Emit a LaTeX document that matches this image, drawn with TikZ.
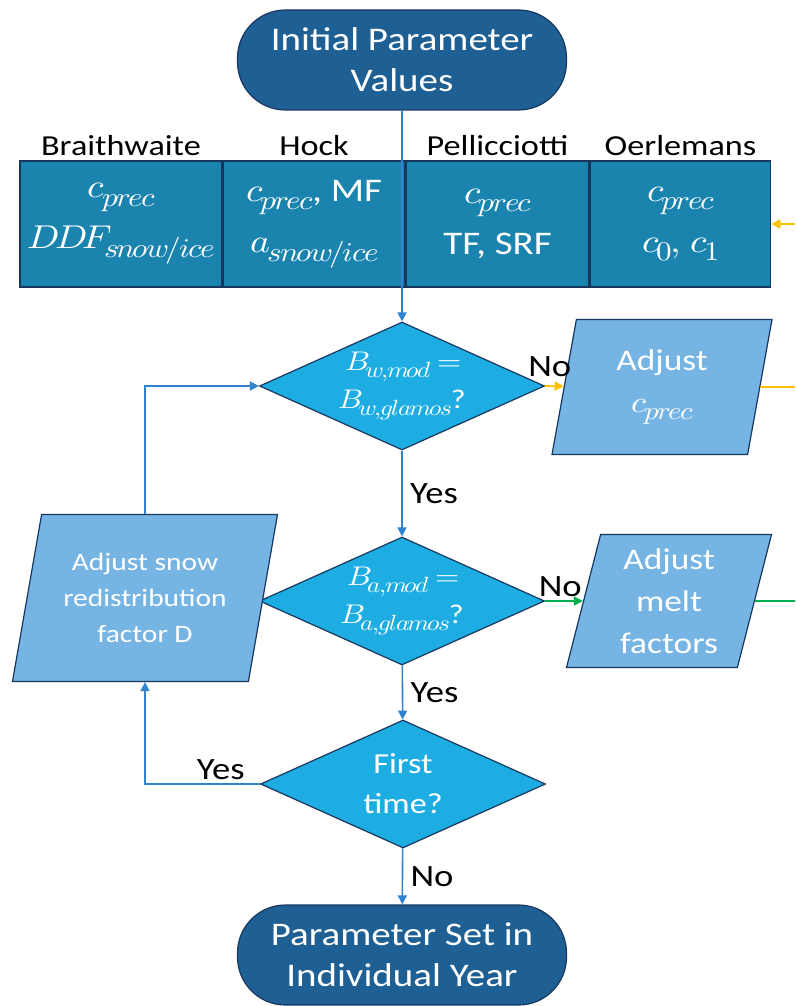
\documentclass[tikz,border=0pt]{standalone}
\usepackage{fontspec}
\usepackage{unicode-math}
\setmainfont{Carlito}[FakeStretch=1.18]
\setmathfont{Latin Modern Math}[FakeStretch=1.15]
\DeclareMathSizes{33}{33}{27}{20}
\DeclareMathSizes{27}{27}{22}{17}
\DeclareMathSizes{30}{30}{25}{19}
\usetikzlibrary{shapes.geometric,arrows.meta,positioning}
\definecolor{termblue}{HTML}{1E5F94}
\definecolor{cellblue}{HTML}{1A84AE}
\definecolor{decblue}{HTML}{1EADE3}
\definecolor{parablue}{HTML}{75B4E3}
\definecolor{edgenavy}{HTML}{17375E}
\definecolor{flowblue}{HTML}{2F83CF}
\definecolor{precyellow}{HTML}{FFC000}
\definecolor{meltgreen}{HTML}{00B050}

\begin{document}
\begin{tikzpicture}[x=1pt,y=-1pt,
  term/.style={draw=edgenavy,line width=1.2pt,fill=termblue,text=white,
               rounded corners=48pt,minimum width=329pt,minimum height=100pt,
               align=center,font=\fontsize{33}{41}\selectfont},
  cell/.style={draw=edgenavy,line width=1.5pt,fill=cellblue,text=white,
               minimum height=126pt,inner sep=0pt,align=center,
               font=\fontsize{33}{51}\selectfont},
  head/.style={font=\fontsize{29}{34}\selectfont,inner sep=2pt},
  dec/.style={draw=edgenavy,line width=1.2pt,fill=decblue,text=white,diamond,
              aspect=2.2,minimum width=285pt,minimum height=128pt,inner sep=0pt,
              align=center,font=\fontsize{27}{38}\selectfont},
  para/.style={draw=edgenavy,line width=1.2pt,fill=parablue,text=white,
               trapezium,trapezium left angle=72,trapezium right angle=108,
               trapezium stretches body,inner sep=0pt,align=center,
               font=\fontsize{30}{42}\selectfont},
  flow/.style={draw=flowblue,line width=1.6pt,-{Triangle[length=9pt,width=9pt]}},
  lbl/.style={font=\fontsize{31}{36}\selectfont,text=black}]
\useasboundingbox (0,0) rectangle (795,1006);

% start / end
\node[term] (start) at (402,60) {Initial Parameter\\Values};
\node[term] (stop) at (402,955) {Parameter Set in\\Individual Year};

% model table
\node[cell,minimum width=202pt] (br) at (121,224) {\(c_{prec}\)\\\(DDF_{snow/ice}\)};
\node[cell,minimum width=181pt,right=0pt of br] (hk) {\(c_{prec}\), MF\\\(a_{snow/ice}\)};
\node[cell,minimum width=183pt,right=0pt of hk] (pl) {\(c_{prec}\)\\TF, SRF};
\node[cell,minimum width=180pt,right=0pt of pl] (oe) {\(c_{prec}\)\\\(c_0,\, c_1\)};
\foreach \c/\t in {br/Braithwaite,hk/Hock,pl/Pellicciotti,oe/Oerlemans}
  \node[head,above=2pt of \c] {\t};

% decisions
\node[dec] (d1) at (402,386) {\(B_{w,mod} =\)\\\(B_{w,glamos}\)?};
\node[dec] (d2) at (402,601) {\(B_{a,mod} =\)\\\(B_{a,glamos}\)?};
\node[dec,font=\fontsize{29}{40}\selectfont] (d3) at (403,784) {First\\time?};

% adjustments
\node[para,minimum width=220pt,minimum height=135pt] (ac) at (662,387) {Adjust\\\(c_{prec}\)};
\node[para,minimum width=205pt,minimum height=133pt] (mf) at (669,601) {Adjust\\melt\\factors};
\node[para,minimum width=265pt,minimum height=167pt,
      font=\fontsize{25}{36}\selectfont] (sn) at (145,598) {Adjust snow\\redistribution\\factor D};

\coordinate (precout) at (795,387);
\coordinate (precin) at (795,224);
\coordinate (meltout) at (795,601);

\draw[flow] (start) -- (d1);
\draw[flow] (d1) -- node[lbl,right=4pt] {Yes} (d2);
\draw[flow] (d2) -- node[lbl,right=4pt] {Yes} (d3);
\draw[flow] (d3) -- node[lbl,right=4pt] {No} (stop);
\draw[flow] (d3.west) -| node[lbl,above,pos=0.17] {Yes} (sn.south);
\draw[flow] (sn.north) |- (d1.west);
\draw[flow,draw=precyellow] (d1.east) -- node[lbl,above=5pt,pos=0.25] {No} (ac);
\draw[draw=precyellow,line width=1.6pt] (ac.east) -- (precout);
\draw[flow,draw=precyellow] (precin) -- (oe.east);
\draw[flow,draw=meltgreen] (d2.east) -- node[lbl,above,pos=0.4] {No} (mf);
\draw[draw=meltgreen,line width=1.6pt] (mf.east) -- (meltout);
\end{tikzpicture}
\end{document}
